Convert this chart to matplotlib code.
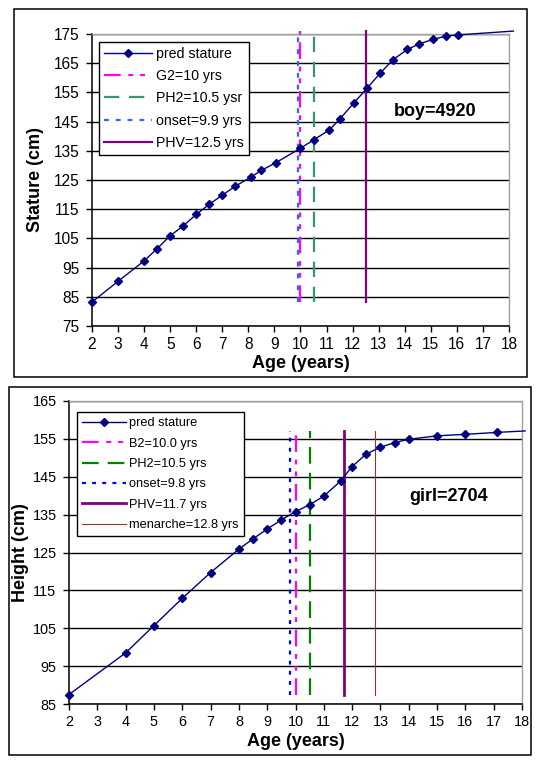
import numpy as np
import matplotlib
matplotlib.use('Agg')
import matplotlib.pyplot as plt
from matplotlib.patches import Rectangle

plt.rcParams['font.family'] = ['Liberation Sans', 'DejaVu Sans']
plt.rcParams['lines.scale_dashes'] = False

# ---- boy data (upper chart) ----
boy_age = [2, 3, 4, 4.5, 5, 5.5, 6, 6.5, 7, 7.5, 8.1, 8.5, 9.05, 10, 10.5, 11.1,
           11.5, 12.05, 12.55, 13.05, 13.55, 14.1, 14.55, 15.1, 15.6, 16.05, 18.17]
boy_stature = [83.2, 90.3, 97.3, 101.5, 105.9, 109.3, 113.2, 116.7, 119.8, 122.9,
               126.0, 128.3, 130.9, 135.9, 138.7, 142.1, 145.8, 151.4, 156.4, 161.5,
               166.2, 169.7, 171.6, 173.2, 174.3, 174.7, 176.0]
boy_event_age = [10, 10.5, 9.9, 12.5]
boy_event_label = ['G2=10 yrs', 'PH2=10.5 ysr', 'onset=9.9 yrs', 'PHV=12.5 yrs']
boy_event_range = [83.2, 176.0]
boy_yticks = [75, 85, 95, 105, 115, 125, 135, 145, 155, 165, 175]

# ---- girl data (lower chart) ----
girl_age = [2, 4, 5, 6, 7, 8, 8.5, 9, 9.5, 10, 10.5, 11, 11.6, 12, 12.5, 13, 13.5,
            14, 15, 16, 17.1, 18.11]
girl_height = [87.5, 98.5, 105.7, 112.9, 119.7, 125.9, 128.6, 131.2, 133.6, 135.8,
               137.6, 139.9, 143.9, 147.7, 151.0, 152.8, 154.0, 154.9, 155.8, 156.2,
               156.7, 157.1]
girl_event_age = [10.0, 10.5, 9.8, 11.7, 12.8]
girl_event_label = ['B2=10.0 yrs', 'PH2=10.5 yrs', 'onset=9.8 yrs', 'PHV=11.7 yrs',
                    'menarche=12.8 yrs']
girl_event_range = [87.5, 157.0]
girl_yticks = [85, 95, 105, 115, 125, 135, 145, 155, 165]

xticks = list(range(2, 19))

# line styles for the vertical event lines (dashes in points)
boy_styles = [
    dict(color='#FF00FF', lw=1.6, ls=(0, (12, 5.5, 3.5, 5, 3.5, 5.5))),
    dict(color='#339966', lw=1.6, ls=(0, (11, 7))),
    dict(color='#3366FF', lw=1.6, ls=(0, (3.5, 5))),
    dict(color='#800080', lw=1.6, ls='-'),
]
girl_styles = [
    dict(color='#FF00FF', lw=1.6, ls=(0, (12, 5.5, 3.5, 5, 3.5, 5.5))),
    dict(color='#008000', lw=1.6, ls=(0, (12, 6.5))),
    dict(color='#0000FF', lw=1.6, ls=(0, (2.8, 4.5))),
    dict(color='#800080', lw=2.0, ls='-'),
    dict(color='#993333', lw=0.8, ls='-'),
]

fig = plt.figure(figsize=(5.41, 7.65), dpi=100)

# outer frames of the two charts
fig.patches.append(Rectangle((14 / 541, 1 - 377 / 765), 513 / 541, 368 / 765,
                             transform=fig.transFigure, fill=False, ec='black', lw=1.1))
fig.patches.append(Rectangle((9 / 541, 1 - 755 / 765), 522 / 541, 368 / 765,
                             transform=fig.transFigure, fill=False, ec='black', lw=1.1))


def setup_axes(ax, yticks, tick_size):
    ax.set_xlim(2, 18)
    ax.set_ylim(yticks[0], yticks[-1])
    ax.set_xticks(xticks)
    ax.set_yticks(yticks)
    ax.tick_params(direction='out', length=4, width=1, labelsize=tick_size)
    ax.tick_params(axis='x', pad=4)
    ax.tick_params(axis='y', pad=5)
    ax.yaxis.grid(True, color='black', lw=1.0)
    ax.set_axisbelow(True)
    for s in ['top', 'right']:
        ax.spines[s].set_color('#A0A0A0')
        ax.spines[s].set_linewidth(1.0)
    for s in ['left', 'bottom']:
        ax.spines[s].set_color('black')
        ax.spines[s].set_linewidth(1.1)


def draw_chart(ax, ages, values, ev_age, ev_label, ev_range, styles):
    n = len(ages)
    ax.plot(ages, values, color='#000080', lw=1.0, marker='D', ms=4.5,
            markevery=list(range(n - 1)), label='pred stature', clip_on=False, zorder=5)
    for a, lab, st in zip(ev_age, ev_label, styles):
        ax.plot([a, a], ev_range, color=st['color'], lw=st['lw'], ls=st['ls'],
                label=lab, clip_on=False, zorder=4)


# ---- upper chart: boy ----
ax1 = fig.add_axes([92 / 541, 1 - 326 / 765, 417 / 541, 292 / 765])
setup_axes(ax1, boy_yticks, 11.2)
draw_chart(ax1, boy_age, boy_stature, boy_event_age, boy_event_label,
           boy_event_range, boy_styles)
ax1.set_xlabel('Age (years)', fontsize=13, fontweight='bold', va='center')
ax1.xaxis.set_label_coords(0.5, -0.128)
ax1.set_ylabel('Stature (cm)', fontsize=13, fontweight='bold', va='center')
ax1.yaxis.set_label_coords(-0.135, 0.5)
ax1.text(15.16, 148.3, 'boy=4920', fontsize=13, fontweight='bold', ha='center', va='center')
leg1 = ax1.legend(loc='upper left', bbox_to_anchor=(99 / 541, 1 - 42 / 765),
                  bbox_transform=fig.transFigure, fontsize=10.2, frameon=True,
                  fancybox=False, framealpha=1, edgecolor='black', borderpad=0.35,
                  labelspacing=0.58, handlelength=3.4, handletextpad=0.3,
                  numpoints=1, borderaxespad=0)
leg1.get_frame().set_linewidth(1.0)
leg1.set_zorder(10)

# ---- lower chart: girl ----
ax2 = fig.add_axes([69 / 541, 1 - 704 / 765, 453 / 541, 303 / 765])
setup_axes(ax2, girl_yticks, 10.4)
draw_chart(ax2, girl_age, girl_height, girl_event_age, girl_event_label,
           girl_event_range, girl_styles)
ax2.set_xlabel('Age (years)', fontsize=13, fontweight='bold', va='center')
ax2.xaxis.set_label_coords(0.5, -0.124)
ax2.set_ylabel('Height (cm)', fontsize=13, fontweight='bold', va='center')
ax2.yaxis.set_label_coords(-0.106, 0.5)
ax2.text(15.4, 139.8, 'girl=2704', fontsize=13, fontweight='bold', ha='center', va='center')
leg2 = ax2.legend(loc='upper left', bbox_to_anchor=(77 / 541, 1 - 412 / 765),
                  bbox_transform=fig.transFigure, fontsize=9.2, frameon=True,
                  fancybox=False, framealpha=1, edgecolor='black', borderpad=0.4,
                  labelspacing=0.66, handlelength=3.4, handletextpad=0.3,
                  numpoints=1, borderaxespad=0)
leg2.get_frame().set_linewidth(1.0)
leg2.set_zorder(10)

fig.savefig('out.png', dpi=100)
